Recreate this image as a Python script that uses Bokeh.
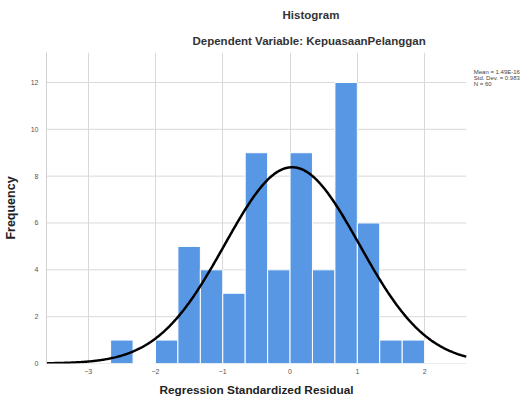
from bokeh.plotting import figure
from bokeh.models import Range1d, FixedTicker, Title, Label
from bokeh.embed import file_html
from bokeh.resources import INLINE
import numpy as np

# Histogram bins (bin width 1/3) and frequencies
bin_left = [-2.667, -2.333, -2.0, -1.667, -1.333, -1.0, -0.667, -0.333, 0.0, 0.333, 0.667, 1.0, 1.333, 1.667]
bin_right = [-2.333, -2.0, -1.667, -1.333, -1.0, -0.667, -0.333, 0.0, 0.333, 0.667, 1.0, 1.333, 1.667, 2.0]
counts = [1, 0, 1, 5, 4, 3, 9, 4, 9, 4, 12, 6, 1, 1]

x_ticks = [-3, -2, -1, 0, 1, 2]
y_ticks = [0, 2, 4, 6, 8, 10, 12]

# normal curve: centre, spread and peak height
curve_mean = 0.03
curve_sd = 1.0
curve_peak = 8.38
stats_lines = ["Mean = 1.49E-16", "Std. Dev. = 0.983", "N = 60"]

FONT = "Liberation Sans"
X_LO, X_HI = -3.62, 2.62      # plotting area of the histogram
X_PANEL = 3.44                # extra room on the right for the statistics text
Y_HI = 13.28

p = figure(frame_width=475, frame_height=311, title=None,
           x_range=Range1d(X_LO, X_PANEL), y_range=Range1d(0, Y_HI),
           output_backend="svg", toolbar_location=None,
           min_border_left=0, min_border_right=0, min_border_bottom=0, min_border_top=0)

# horizontal grid lines, limited to the histogram area
p.segment(x0=[X_LO] * len(y_ticks), x1=[X_HI] * len(y_ticks), y0=y_ticks, y1=y_ticks,
          line_color="#d9d9d9", line_width=1)

p.quad(left=bin_left, right=bin_right, bottom=0, top=counts,
       fill_color="#5897E4", line_color="white", line_width=1)

xs = np.linspace(X_LO, X_HI, 400)
ys = curve_peak * np.exp(-0.5 * ((xs - curve_mean) / curve_sd) ** 2)
p.line(xs, ys, line_color="black", line_width=2.5)

p.outline_line_color = None
p.xgrid.ticker = FixedTicker(ticks=x_ticks)
p.xgrid.grid_line_color = "#d9d9d9"
p.ygrid.grid_line_color = None

p.xaxis.ticker = FixedTicker(ticks=x_ticks)
p.yaxis.ticker = FixedTicker(ticks=y_ticks)
p.xaxis.bounds = (X_LO, X_HI)
for ax in (p.xaxis, p.yaxis):
    ax.major_tick_line_color = None
    ax.minor_tick_line_color = None
    ax.major_tick_out = 0
    ax.major_tick_in = 0
    ax.minor_tick_out = 0
    ax.major_label_text_font = FONT
    ax.major_label_text_font_size = "7px"
    ax.major_label_text_color = "#555555"
    ax.axis_label_text_font = FONT
    ax.axis_label_text_font_style = "bold"
    ax.axis_label_text_color = "#222222"
p.xaxis.major_label_standoff = 5
p.yaxis.major_label_standoff = 8
p.xaxis.axis_line_color = None
p.yaxis.axis_line_color = "#d0d0d0"
p.yaxis.axis_label = "Frequency"
p.yaxis.axis_label_text_font_size = "12.5px"
p.yaxis.axis_label_standoff = 10

# x-axis title, centred under the histogram area rather than the whole frame
xlab = Title(text="Regression Standardized Residual", align="left", offset=113,
             text_font=FONT, text_font_size="11.8px", text_font_style="bold",
             text_color="#222222", standoff=9)
p.add_layout(xlab, "below")

sub = Title(text="Dependent Variable: KepuasaanPelanggan", align="left", offset=146,
            text_font=FONT, text_font_size="11.5px", text_font_style="bold",
            text_color="#333333", standoff=12)
p.add_layout(sub, "above")
main = Title(text="Histogram", align="left", offset=236,
             text_font=FONT, text_font_size="11.5px", text_font_style="bold",
             text_color="#333333", standoff=12)
p.add_layout(main, "above")

stat_y = [12.46, 12.18, 11.92]
for txt, yy in zip(stats_lines, stat_y):
    p.add_layout(Label(x=2.73, y=yy, text=txt, text_font=FONT, text_font_size="6px",
                       text_color="#444444", text_baseline="middle"))

open("out.html", "w").write(file_html(p, INLINE))
